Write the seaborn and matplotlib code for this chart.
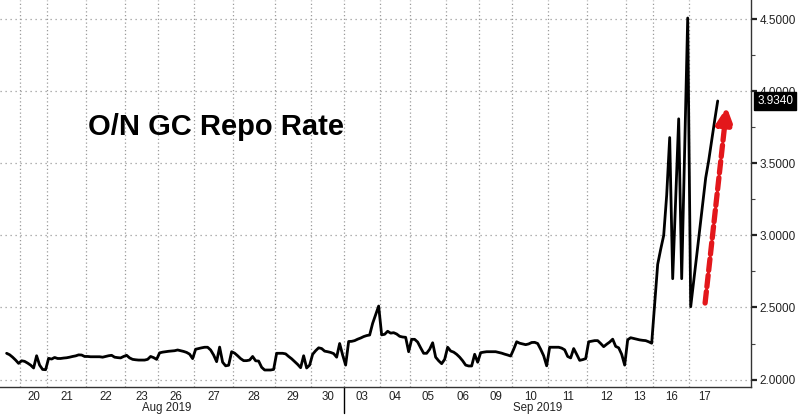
import numpy as np
import pandas as pd
import matplotlib
matplotlib.use("Agg")
import matplotlib.pyplot as plt
import seaborn as sns
import matplotlib.transforms as mtransforms
from matplotlib.ticker import MultipleLocator, FormatStrFormatter, FixedLocator

# ---- data: intraday O/N GC repo rate, one list per trading session ----
aug19 = [2.182, 2.172, 2.155, 2.135, 2.112]
aug20 = [2.13, 2.126, 2.114, 2.10, 2.08, 2.165, 2.10, 2.07, 2.068]
aug21 = [2.147, 2.142, 2.153, 2.146, 2.146, 2.149, 2.151, 2.155, 2.16, 2.164, 2.171, 2.17, 2.16]
aug22 = [2.16, 2.158, 2.158, 2.158, 2.158, 2.155, 2.16, 2.165, 2.168, 2.155, 2.152, 2.15, 2.16]
aug23 = [2.168, 2.15, 2.14, 2.137, 2.135, 2.135, 2.135, 2.14, 2.16, 2.152, 2.14]
aug26 = [2.185, 2.19, 2.193, 2.196, 2.198, 2.2, 2.205, 2.2, 2.195, 2.188, 2.176, 2.145]
aug27 = [2.21, 2.215, 2.22, 2.224, 2.224, 2.205, 2.17, 2.124, 2.225, 2.12, 2.095, 2.099, 2.193]
aug28 = [2.183, 2.165, 2.145, 2.131, 2.131, 2.135, 2.16, 2.13, 2.128, 2.085, 2.066, 2.066, 2.066, 2.07]
aug29 = [2.182, 2.182, 2.182, 2.178, 2.16, 2.144, 2.125, 2.105, 2.082, 2.165, 2.08, 2.10]
aug30 = [2.175, 2.20, 2.22, 2.215, 2.197, 2.193, 2.188, 2.18, 2.155, 2.25, 2.17]
sep03 = [2.10, 2.264, 2.265, 2.27, 2.28, 2.288, 2.298, 2.305, 2.309, 2.39, 2.45, 2.51]
sep04 = [2.31, 2.314, 2.335, 2.322, 2.325, 2.316, 2.30, 2.295, 2.293, 2.193]
sep05 = [2.279, 2.279, 2.26, 2.22, 2.182, 2.182, 2.21, 2.255, 2.155, 2.13, 2.11, 2.14]
sep06 = [2.224, 2.198, 2.19, 2.175, 2.155, 2.13, 2.10, 2.094, 2.094, 2.175, 2.12]
sep09 = [2.186, 2.19, 2.193, 2.193, 2.193, 2.193, 2.188, 2.183, 2.176, 2.17, 2.163]
sep10 = [2.21, 2.262, 2.252, 2.247, 2.242, 2.247, 2.257, 2.258, 2.25, 2.21, 2.165, 2.095]
sep11 = [2.224, 2.224, 2.224, 2.224, 2.218, 2.206, 2.16, 2.15, 2.215, 2.175, 2.133, 2.138, 2.145]
sep12 = [2.262, 2.266, 2.27, 2.27, 2.25, 2.228, 2.245, 2.26, 2.28, 2.23, 2.22, 2.175, 2.10]
sep13 = [2.276, 2.29, 2.285, 2.28, 2.275, 2.272, 2.27, 2.262, 2.252]
sep16 = [2.53, 2.80, 2.904, 3.0, 3.28, 3.68, 2.70, 3.25, 3.81, 2.70, 3.60, 4.51]
sep17 = [2.505, 2.68, 2.86, 3.04, 3.22, 3.40, 3.52, 3.66, 3.80, 3.934]

day_labels = ["", "20", "21", "22", "23", "26", "27", "28", "29", "30",
              "03", "04", "05", "06", "09", "10", "11", "12", "13", "16", "17"]
month_labels = ["Aug 2019", "Sep 2019"]
month_label_pos = [53.4, 177.0]   # tick index where month captions sit
first_sep_session = 10
last_label = "3.9340"
arrow_start = (232.8, 2.531)
arrow_end = (240.0, 3.892)

sessions = [aug19, aug20, aug21, aug22, aug23, aug26, aug27, aug28, aug29, aug30,
            sep03, sep04, sep05, sep06, sep09, sep10, sep11, sep12, sep13, sep16, sep17]

values = np.concatenate([np.asarray(s, float) for s in sessions])
df = pd.DataFrame({"tick": np.arange(len(values)), "rate": values})

counts = np.array([len(s) for s in sessions])
starts = np.concatenate([[0], np.cumsum(counts)[:-1]])
centers = starts + (counts - 1) / 2.0
bounds = starts[1:] - 0.5

# ---- style ----
sns.set_style("white")
plt.rcParams['font.family'] = ['Liberation Sans', 'DejaVu Sans']

fig = plt.figure(figsize=(8, 4.16), dpi=100)
ax = fig.add_axes([0, 29 / 416, 751 / 800, 387 / 416])

sns.lineplot(data=df, x="tick", y="rate", ax=ax, color="black", linewidth=2.0)

ax.set_xlim(-2.2, 248.1)
ax.set_ylim(1.948, 4.635)

# x axis: day labels at session centres, dotted grid at session boundaries
ax.set_xticks(centers[1:])
ax.set_xticklabels(day_labels[1:])
ax.xaxis.set_minor_locator(FixedLocator(bounds))
ax.tick_params(axis='x', which='both', length=0, labelsize=8.3, pad=3, colors='#222222')
ax.grid(False)
ax.grid(axis='x', which='minor', linestyle=(0, (1, 2)), color='#9a9a9a', linewidth=0.9)

# y axis on the right
ax.yaxis.tick_right()
ax.yaxis.set_major_locator(MultipleLocator(0.5))
ax.yaxis.set_minor_locator(MultipleLocator(0.25))
ax.yaxis.set_major_formatter(FormatStrFormatter('%.4f'))
ax.grid(axis='y', which='major', linestyle=(0, (1, 3)), color='#9a9a9a', linewidth=0.9)
ax.tick_params(axis='y', which='major', length=4, width=1.6, labelsize=8.5, pad=2,
               direction='out', colors='#222222')
ax.tick_params(axis='y', which='minor', length=3, width=0.8, direction='out', color='#444444')

for s in ['left', 'top']:
    ax.spines[s].set_visible(False)
for s in ['right', 'bottom']:
    ax.spines[s].set_color('#333333')
    ax.spines[s].set_linewidth(1.0)
ax.set_xlabel('')
ax.set_ylabel('')

# month captions and month separator
trans = mtransforms.blended_transform_factory(ax.transData, ax.transAxes)
for pos, lab in zip(month_label_pos, month_labels):
    ax.text(pos, -0.054, lab, transform=trans, ha='center', va='center',
            fontsize=8.3, color='#222222')
sep_x = starts[first_sep_session] - 0.5
ax.plot([sep_x, sep_x], [0, -0.067], transform=trans, color='black', lw=1.0, clip_on=False)

# last value box (covers the 4.0000 label, as in the original)
ax.annotate(last_label, xy=(1.0, values[-1]), xycoords=('axes fraction', 'data'),
            xytext=(4.5, 0), textcoords='offset points', ha='left', va='center',
            fontsize=8.5, color='white', zorder=10,
            bbox=dict(boxstyle='square,pad=0.25', fc='black', ec='black'),
            annotation_clip=False)

# title
fig.text(0.11, 0.695, "O/N GC Repo Rate", fontsize=21, fontweight='bold',
         ha='left', va='center', color='black')

# red dashed arrow
ax.annotate("", xy=arrow_end, xytext=arrow_start,
            arrowprops=dict(arrowstyle="-|>,head_length=1.0,head_width=0.5",
                            color="#e3171b", lw=3.8, linestyle=(0, (2.2, 0.9)),
                            shrinkA=0, shrinkB=0, mutation_scale=10))

fig.savefig("out.png", dpi=100)
